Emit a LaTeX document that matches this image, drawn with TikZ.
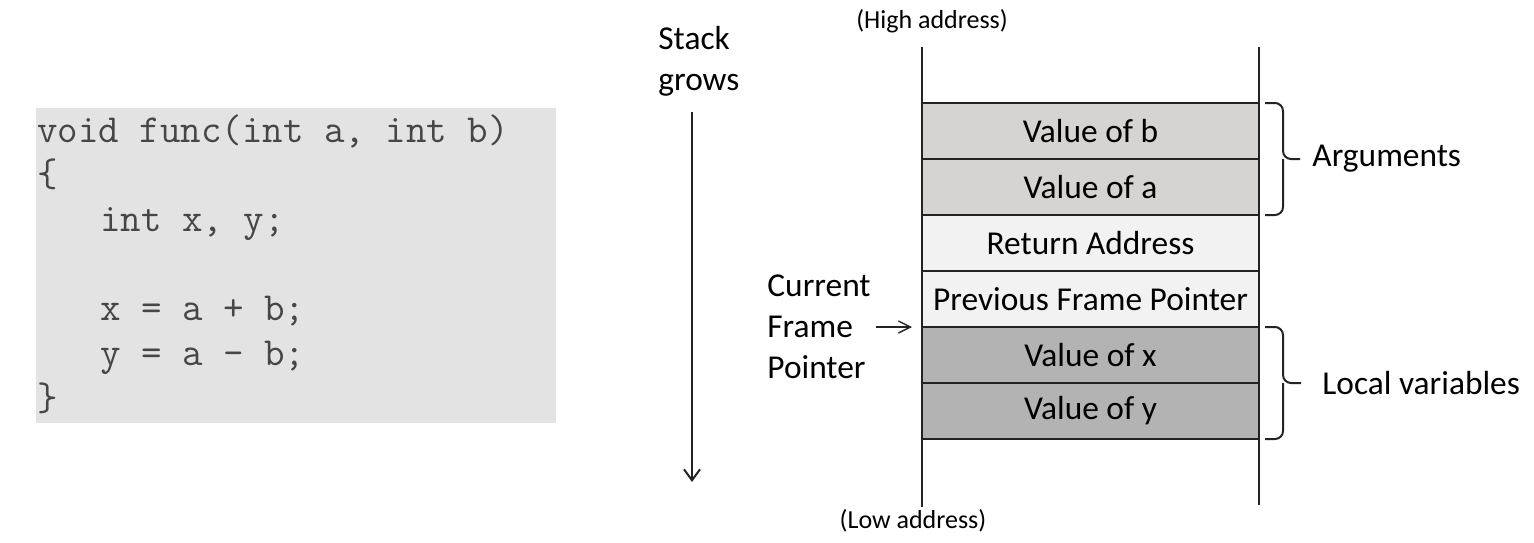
\documentclass[tikz,border=0pt]{standalone}
\usepackage{fontspec}
\setmainfont{Carlito}
\usetikzlibrary{positioning,arrows.meta}
\definecolor{codebg}{RGB}{226,227,226}
\definecolor{codetext}{RGB}{70,70,70}
\definecolor{argfill}{RGB}{214,212,210}
\definecolor{linkfill}{RGB}{242,242,242}
\definecolor{localfill}{RGB}{179,179,179}
\definecolor{edge}{RGB}{35,35,35}
\tikzset{
	txt/.style={inner sep=0pt, font=\fontsize{16.7}{20.5}\selectfont},
	addr/.style={inner sep=0pt, font=\fontsize{13}{16}\selectfont},
	cell/.style={draw=edge, line width=1.2pt, minimum width=168.5pt,
		minimum height=28pt, inner sep=0pt, outer sep=0pt,
		font=\fontsize{16.7}{20.5}\selectfont},
	codeline/.style={anchor=base west, inner sep=0pt, text=codetext,
		font=\ttfamily\fontsize{19.9}{22}\selectfont},
	wall/.style={draw=edge, line width=1pt},
	bracket/.style={draw=edge, line width=1pt, rounded corners=4pt},
	growarrow/.style={draw=edge, line width=1pt, -{Straight Barb[length=5.5pt,width=8pt]}},
	ptr/.style={draw=edge, line width=0.7pt, -{Straight Barb[length=6pt,width=6pt]}}
}

\begin{document}
\begin{tikzpicture}[x=0.5pt, y=-0.5pt]
	\useasboundingbox (0,0) rectangle (1534,542);

	% the function
	\node[fill=codebg, minimum width=260pt, minimum height=157.5pt,
		inner sep=0pt, outer sep=0pt] (codebox) at (296,265.5) {};
	\foreach \i/\cx/\cy/\ctext in {
		1/37/142/{void func(int a, int b)},
		2/37/186.7/{\{},
		3/100/231.3/{int x, y;},
		5/100/320.7/{x = a + b;},
		6/100/365.3/{y = a - b;},
		7/37/410/{\}}}
	{
		\node[codeline] (c\i) at (\cx,\cy) {\ctext};
	};

	% the stack frame
	\node[cell, fill=argfill] (r1) at (1090.5,131) {Value of b};
	\node[cell, fill=argfill, below=0pt of r1] (r2) {Value of a};
	\node[cell, fill=linkfill, below=0pt of r2] (r3) {Return Address};
	\node[cell, fill=linkfill, below=0pt of r3] (r4) {Previous Frame Pointer};
	\node[cell, fill=localfill, below=0pt of r4] (r5) {Value of x};
	\node[cell, fill=localfill, below=0pt of r5] (r6) {Value of y};

	\coordinate (ltop) at (922,47);
	\coordinate (lbot) at (922,507);
	\coordinate (rtop) at (1259,47);
	\coordinate (rbot) at (1259,505);
	\draw[wall] (ltop) -- (lbot);
	\draw[wall] (rtop) -- (rbot);

	\node[addr, anchor=base] (high) at (932,28) {(High address)};
	\node[addr, anchor=base] (low) at (913,528) {(Low address)};

	% brackets
	\draw[bracket] ([xshift=3pt]r1.north east) -| ([xshift=12pt]r1.south east)
		-- ([xshift=20.5pt]r1.south east);
	\draw[bracket] ([xshift=3pt]r2.south east) -| ([xshift=12pt]r1.south east);
	\draw[bracket] ([xshift=3pt]r5.north east) -| ([xshift=12pt]r5.south east)
		-- ([xshift=21pt]r5.south east);
	\draw[bracket] ([xshift=3pt]r6.south east) -| ([xshift=12pt]r5.south east);
	\node[txt, right=26.5pt of r1.south east] (args) {Arguments};
	\node[txt, right=31.5pt of r5.south east] (locals) {Local variables};

	% labels on the left
	\node[txt, align=left, anchor=base west] (sg) at (658,90) {Stack\\grows};
	\coordinate (sgend) at (692,482);
	\draw[growarrow, shorten <=8pt] (sgend |- sg.south) -- (sgend);

	\node[txt, align=left, anchor=base west] (cfp) at (767,378)
		{Current\\Frame\\Pointer};
	\draw[ptr, shorten <=2.5pt] (cfp.east |- r5.north west)
		-- ([xshift=-5pt]r5.north west);
\end{tikzpicture}
\end{document}
